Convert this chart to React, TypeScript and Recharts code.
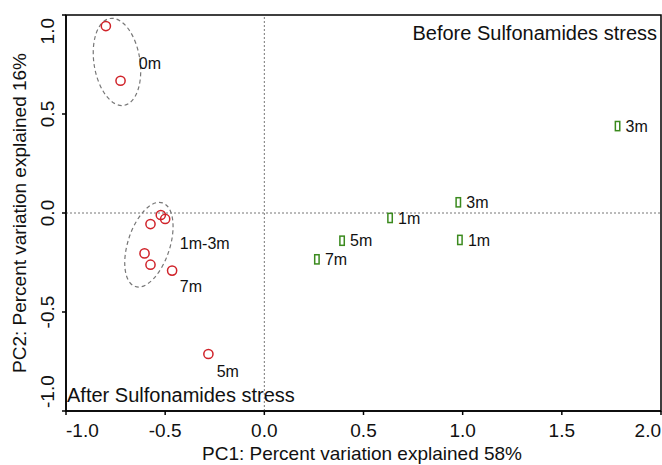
import React from 'react';
import { ScatterChart, Scatter, XAxis, YAxis, ReferenceLine, ReferenceArea, ReferenceDot } from 'recharts';

// Data
const redX = [-0.799, -0.725, -0.522, -0.5, -0.574, -0.604, -0.574, -0.465, -0.282];
const redY = [0.944, 0.668, -0.01, -0.03, -0.056, -0.204, -0.261, -0.291, -0.712];
const greenX = [1.781, 0.978, 0.634, 0.392, 0.986, 0.265];
const greenY = [0.439, 0.054, -0.025, -0.14, -0.136, -0.234];
const greenLabels = ['3m', '3m', '1m', '5m', '1m', '7m'];
const groupLabelText = ['0m', '1m-3m', '7m', '5m'];
const groupLabelX = [-0.633, -0.426, -0.426, -0.24];
const groupLabelY = [0.758, -0.152, -0.369, -0.798];
const ellipseCenterX = [-0.743, -0.582];
const ellipseCenterY = [0.763, -0.16];
const xTicks = [-1.0, -0.5, 0.0, 0.5, 1.0, 1.5, 2.0];
const yTicks = [-1.0, -0.5, 0.0, 0.5, 1.0];
const xTitle = 'PC1: Percent variation explained 58%';
const yTitle = 'PC2: Percent variation explained 16%';
const topNote = 'Before Sulfonamides stress';
const bottomNote = 'After Sulfonamides stress';

// styles
const ELLIPSE_STYLE = [
  { rx: 23, ry: 44, angle: -9 },
  { rx: 21, ry: 44, angle: 18 },
];
const FONT = '"Liberation Sans", Arial, Helvetica, sans-serif';
const RED = '#d0232a';
const GREEN = '#3b8a1e';

const redData = redX.map((x, i) => ({ x, y: redY[i] }));
const greenData = greenX.map((x, i) => ({ x, y: greenY[i], label: greenLabels[i] }));
const groupLabels = groupLabelText.map((t, i) => ({ x: groupLabelX[i], y: groupLabelY[i], label: t }));

const XTick = (props: any) => {
  const { x, y, payload } = props;
  const v = payload.value;
  const anchor = v === xTicks[0] ? 'start' : v === xTicks[xTicks.length - 1] ? 'end' : 'middle';
  return (
    <text x={x} y={y + 22} textAnchor={anchor} fontSize={19} fill="#111" fontFamily={FONT}>
      {Number(v).toFixed(1)}
    </text>
  );
};

const YTick = (props: any) => {
  const { x, y, payload } = props;
  const v = payload.value;
  const anchor = v === yTicks[yTicks.length - 1] ? 'end' : v === yTicks[0] ? 'start' : 'middle';
  const yy = v === yTicks[yTicks.length - 1] ? y + 3 : v === yTicks[0] ? y - 3 : y;
  return (
    <text
      transform={`translate(${x - 8},${yy}) rotate(-90)`}
      textAnchor={anchor}
      fontSize={19}
      fill="#111"
      fontFamily={FONT}
    >
      {Number(v).toFixed(1)}
    </text>
  );
};

const RedCircle = (props: any) => {
  const { cx, cy } = props;
  return <circle cx={cx} cy={cy} r={4.6} fill="none" stroke={RED} strokeWidth={1.5} />;
};

const GreenRect = (props: any) => {
  const { cx, cy, payload } = props;
  return (
    <g>
      <rect x={cx - 2.2} y={cy - 4.6} width={4.4} height={9.2} fill="none" stroke={GREEN} strokeWidth={1.5} />
      <text x={cx + 8} y={cy} dy="0.35em" fontSize={16} fill="#111" fontFamily={FONT}>
        {payload.label}
      </text>
    </g>
  );
};

const GroupLabel = (props: any) => {
  const { cx, cy, payload } = props;
  return (
    <text x={cx} y={cy} dy="0.35em" fontSize={16} fill="#111" fontFamily={FONT}>
      {payload.label}
    </text>
  );
};

const makeEllipse = (i: number) => (props: any) => {
  const { cx, cy } = props;
  const s = ELLIPSE_STYLE[i];
  return (
    <ellipse
      cx={cx}
      cy={cy}
      rx={s.rx}
      ry={s.ry}
      transform={`rotate(${s.angle} ${cx} ${cy})`}
      fill="none"
      stroke="#777"
      strokeWidth={1.2}
      strokeDasharray="4 3"
    />
  );
};

export default function App() {
  return (
    <div style={{ position: 'absolute', left: 0, top: 0, background: '#fff' }}>
      <ScatterChart
        width={662}
        height={465}
        margin={{ top: 15, right: 1, bottom: 0, left: 10 }}
        style={{ fontFamily: FONT }}
      >
        <XAxis
          type="number"
          dataKey="x"
          domain={[-1, 2]}
          ticks={xTicks}
          allowDataOverflow
          height={54}
          tickSize={4}
          tickMargin={0}
          axisLine={{ stroke: '#000', strokeWidth: 1.5 }}
          tickLine={{ stroke: '#000', strokeWidth: 1.5 }}
          tick={<XTick />}
          interval={0}
        />
        <YAxis
          type="number"
          dataKey="y"
          domain={[-1, 1]}
          ticks={yTicks}
          allowDataOverflow
          width={56}
          tickSize={4}
          tickMargin={0}
          axisLine={{ stroke: '#000', strokeWidth: 1.5 }}
          tickLine={{ stroke: '#000', strokeWidth: 1.5 }}
          tick={<YTick />}
          interval={0}
        />
        <ReferenceArea x1={-1} x2={2} y1={-1} y2={1} fill="none" stroke="#000" strokeWidth={1.5} ifOverflow="visible" />
        <ReferenceLine x={0} stroke="#777" strokeWidth={1} strokeDasharray="2 2" />
        <ReferenceLine y={0} stroke="#777" strokeWidth={1} strokeDasharray="2 2" />
        {ellipseCenterX.map((ex, i) => (
          <ReferenceDot key={i} x={ex} y={ellipseCenterY[i]} shape={makeEllipse(i)} ifOverflow="visible" />
        ))}
        <Scatter data={redData} shape={<RedCircle />} isAnimationActive={false} />
        <Scatter data={greenData} shape={<GreenRect />} isAnimationActive={false} />
        <Scatter data={groupLabels} shape={<GroupLabel />} isAnimationActive={false} />
        <text x={657} y={40} textAnchor="end" fontSize={20} fill="#111" fontFamily={FONT}>
          {topNote}
        </text>
        <text x={67} y={402} textAnchor="start" fontSize={20} fill="#111" fontFamily={FONT}>
          {bottomNote}
        </text>
        <text x={362} y={460} textAnchor="middle" fontSize={19} fill="#111" fontFamily={FONT}>
          {xTitle}
        </text>
        <text
          transform="translate(26,213) rotate(-90)"
          textAnchor="middle"
          fontSize={19}
          fill="#111"
          fontFamily={FONT}
        >
          {yTitle}
        </text>
      </ScatterChart>
    </div>
  );
}
